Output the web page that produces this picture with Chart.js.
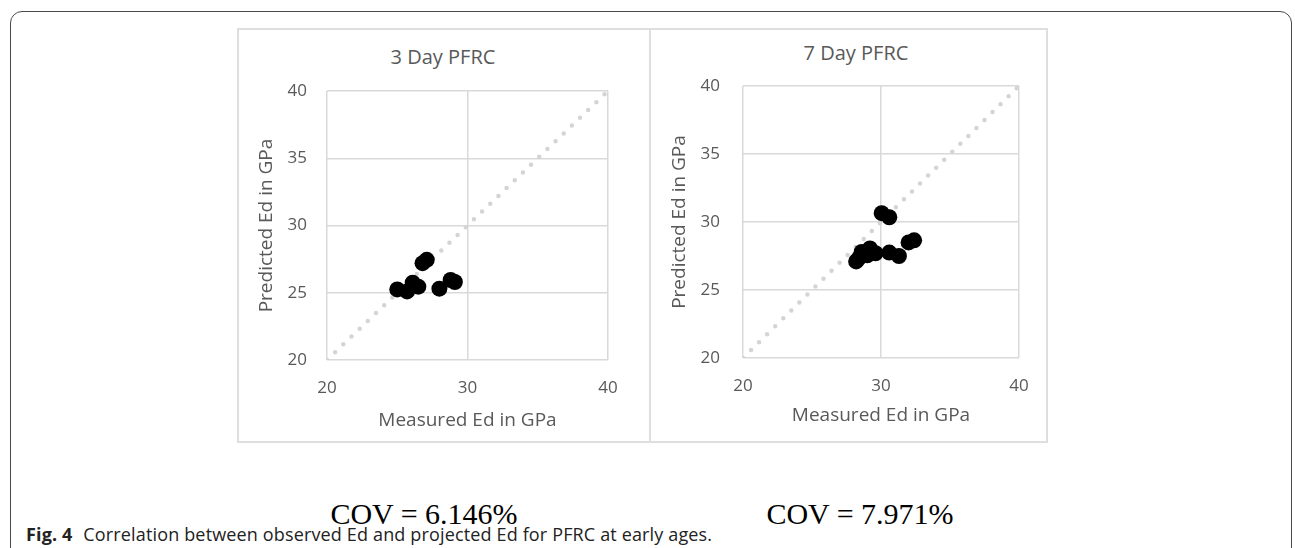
<!DOCTYPE html>
<html lang="en">
<head>
  <meta charset="UTF-8" />
  <title>PFRC Ed correlation</title>
  <script src="https://cdn.jsdelivr.net/npm/chart.js"></script>
  <style>
    body {
      margin: 0;
      width: 1295px;
      height: 548px;
      overflow: hidden;
      background: white;
      position: relative;
      font-family: "Open Sans", Arial, sans-serif;
    }
    .frame {
      position: absolute;
      left: 10px;
      top: 11px;
      width: 1282px;
      height: 600px;
      border: 1.5px solid #4a4a4a;
      border-radius: 12px;
      box-sizing: border-box;
    }
    .painel {
      position: absolute;
      top: 28px;
      height: 415px;
      border: 2px solid #dedede;
      box-sizing: border-box;
    }
    .titulo {
      position: absolute;
      transform: translate(-50%, -50%);
      font-size: 20px;
      color: #595959;
      white-space: nowrap;
    }
    .wrap {
      position: absolute;
      top: 30px;
      height: 411px;
    }
    .cov {
      position: absolute;
      top: 497px;
      transform: translateX(-50%);
      font-family: "Liberation Serif", "Times New Roman", serif;
      font-size: 30px;
      color: black;
      white-space: nowrap;
    }
    .legenda {
      position: absolute;
      left: 26px;
      top: 523px;
      font-size: 18px;
      letter-spacing: 0.15px;
      line-height: 22px;
      color: #222;
      white-space: nowrap;
    }
    .legenda b { margin-right: 6px; }
  </style>
</head>
<body>
  <div class="frame"></div>

  <div class="painel" style="left:237px; width:414px;"></div>
  <div class="painel" style="left:649px; width:399px;"></div>

  <div class="titulo" style="left:443px; top:56px;">3 Day PFRC</div>
  <div class="titulo" style="left:856px; top:52px;">7 Day PFRC</div>

  <div class="wrap" style="left:239px; width:410px;"><canvas id="chart3"></canvas></div>
  <div class="wrap" style="left:651px; width:396px;"><canvas id="chart7"></canvas></div>

  <div class="cov" style="left:424px;">COV = 6.146%</div>
  <div class="cov" style="left:860px;">COV = 7.971%</div>

  <div class="legenda"><b>Fig. 4</b> Correlation between observed Ed and projected Ed for PFRC at early ages.</div>

  <script>
    // medições (GPa)
    const medido3 = [25.0, 25.7, 26.1, 26.5, 26.8, 27.1, 28.0, 28.8, 29.1];
    const previsto3 = [25.25, 25.1, 25.75, 25.45, 27.2, 27.45, 25.3, 25.95, 25.8];

    const medido7 = [28.2, 28.4, 28.6, 29.0, 29.2, 29.6, 30.05, 30.6, 30.6, 31.3, 32.0, 32.4];
    const previsto7 = [27.1, 27.35, 27.8, 27.55, 28.05, 27.7, 30.65, 30.35, 27.75, 27.5, 28.5, 28.65];

    // linha de igualdade e limites dos eixos
    const linhaIgual = [20, 40];
    const eixoMin = 20, eixoMax = 40, passo = 10, passoY = 5;

    const cinza = '#595959';
    const grade = '#d9d9d9';

    function pontos(xs, ys) {
      return xs.map((x, i) => ({ x: x, y: ys[i] }));
    }

    function criarGrafico(id, xs, ys, cfg) {
      return new Chart(document.getElementById(id).getContext('2d'), {
        type: 'scatter',
        data: {
          datasets: [
            {
              type: 'line',
              data: linhaIgual.map(v => ({ x: v, y: v })),
              borderColor: '#d4d4d4',
              borderWidth: 4.5,
              borderDash: [0, 11.3],
              borderCapStyle: 'round',
              pointRadius: 0,
              order: 2
            },
            {
              data: pontos(xs, ys),
              backgroundColor: 'black',
              borderWidth: 0,
              pointRadius: 8,
              order: 1
            }
          ]
        },
        options: {
          responsive: true,
          maintainAspectRatio: false,
          animation: false,
          layout: { padding: { top: cfg.top, right: cfg.right, bottom: 0, left: 0 } },
          plugins: { legend: { display: false }, tooltip: { enabled: false } },
          scales: {
            x: {
              type: 'linear',
              min: eixoMin, max: eixoMax,
              border: { display: false },
              grid: { color: grade, lineWidth: 1.5, drawTicks: false },
              ticks: { stepSize: passo, color: cinza, padding: 18, font: { family: 'Open Sans', size: 17 } },
              title: { display: true, text: 'Measured Ed in GPa', color: cinza,
                       font: { family: 'Open Sans', size: 19 }, padding: { top: 0, bottom: cfg.xTitulo } },
              afterFit: s => { s.height = cfg.baixo; }
            },
            y: {
              min: eixoMin, max: eixoMax,
              border: { display: false },
              grid: { color: grade, lineWidth: 1.5, drawTicks: false },
              ticks: { stepSize: passoY, color: cinza, padding: cfg.yTicks, font: { family: 'Open Sans', size: 17 } },
              title: { display: true, text: 'Predicted Ed in GPa', color: cinza,
                       font: { family: 'Open Sans', size: 19 }, padding: { top: cfg.yTitulo, bottom: 0 } },
              afterFit: s => { s.width = cfg.esq; }
            }
          }
        }
      });
    }

    criarGrafico('chart3', medido3, previsto3,
      { top: 61, right: 41, baixo: 81, esq: 88, yTicks: 20, yTitulo: 16.6, xTitulo: 8.6 });
    criarGrafico('chart7', medido7, previsto7,
      { top: 56, right: 28, baixo: 83, esq: 92, yTicks: 23, yTitulo: 17.6, xTitulo: 13.6 });
  </script>
</body>
</html>
